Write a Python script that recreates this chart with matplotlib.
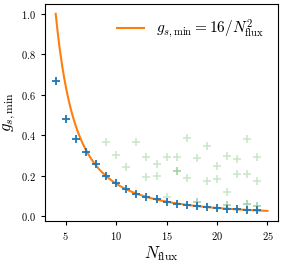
import numpy as np
import matplotlib
matplotlib.use('Agg')
import matplotlib.pyplot as plt

plt.rcParams['mathtext.fontset'] = 'cm'
plt.rcParams['font.family'] = 'serif'
plt.rcParams['font.serif'] = ['cmr10', 'DejaVu Serif']
plt.rcParams['axes.formatter.use_mathtext'] = True

# minimum coupling found for each flux number
n_flux = np.arange(4, 25)
gs_min = [0.667, 0.48, 0.381, 0.318, 0.256, 0.198, 0.162, 0.132, 0.111, 0.095, 0.082,
          0.071, 0.062, 0.055, 0.049, 0.044, 0.040, 0.036, 0.033, 0.030, 0.028]

# other (non-minimal) vacua
other_n = [9, 12, 10, 11, 13, 13, 14, 14, 15, 15, 16, 16, 16, 17, 17, 18, 18, 18,
           19, 19, 20, 20, 21, 21, 21, 21, 22, 22, 23, 23, 23, 23, 24, 24, 24, 24]
other_gs = [0.364, 0.364, 0.303, 0.244, 0.294, 0.193, 0.256, 0.196, 0.294, 0.092,
            0.293, 0.221, 0.221, 0.384, 0.186, 0.286, 0.072, 0.072,
            0.344, 0.175, 0.249, 0.185, 0.297, 0.117, 0.056, 0.056,
            0.282, 0.206, 0.381, 0.206, 0.06, 0.06, 0.291, 0.171, 0.05, 0.05]

fig = plt.figure(figsize=(2.82, 2.65), dpi=100)
ax = fig.add_axes([0.16, 0.167, 0.826, 0.818])

ax.scatter(other_n, other_gs, marker='+', color='tab:green', alpha=0.25, s=30, lw=1.2)
nn = np.linspace(4, 25, 300)
ax.plot(nn, 16 / nn**2, color='tab:orange', lw=1.5, label=r'$g_{s,\mathrm{min}} = 16/N_{\mathrm{flux}}^2$')
ax.scatter(n_flux, gs_min, marker='+', color='tab:blue', s=30, lw=1.3, zorder=3)

ax.set_xticks([5, 10, 15, 20, 25])
ax.set_yticks([0.0, 0.2, 0.4, 0.6, 0.8, 1.0])
ax.tick_params(labelsize=7.5, length=3, width=0.8)
ax.set_xlabel(r'$N_{\mathrm{flux}}$', fontsize=12, labelpad=2)
ax.set_ylabel(r'$g_{s,\mathrm{min}}$', fontsize=12, labelpad=2)
ax.legend(frameon=False, fontsize=11, loc='upper right', handlelength=1.8)

plt.savefig('out.png', dpi=100)
